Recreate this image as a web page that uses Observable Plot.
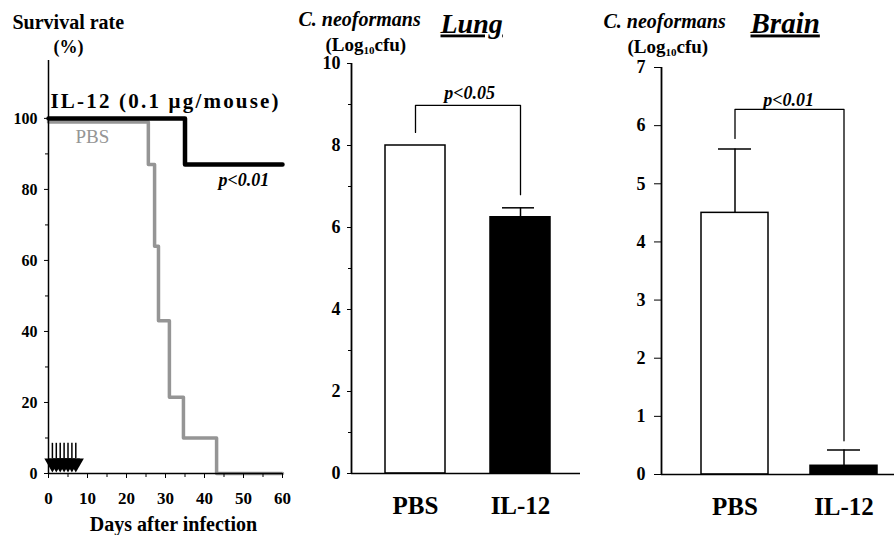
<!DOCTYPE html>
<html><head><meta charset="utf-8">
<script src="https://cdn.jsdelivr.net/npm/d3@7"></script>
<script src="https://cdn.jsdelivr.net/npm/@observablehq/plot@0.6"></script>
<style>
body{margin:0;background:#fff;}
#wrap{position:relative;width:894px;height:535px;overflow:hidden;background:#fff;}
.panel{position:absolute;top:0;}
</style></head><body><div id="wrap"></div>
<script>
// ---- Survival panel data ----
const il12Days = [0, 35, 60];
const il12Surv = [100, 87, 87];
const pbsDays = [0, 25.6, 27.2, 28.2, 31.0, 34.6, 43.1, 60];
const pbsSurv = [99, 87, 64, 43, 21.5, 10, 0, 0];
const injectionDays = [1, 2, 3, 4, 5, 6, 7];
const survTicks = [0, 20, 40, 60, 80, 100];
const dayTicks = [0, 10, 20, 30, 40, 50, 60];
// ---- Organ burden data (Log10 cfu) ----
const groups = ["PBS", "IL-12"];
const lungMean = [8.0, 6.25];
const lungUpper = [8.0, 6.48];
const brainMean = [4.5, 0.15];
const brainUpper = [5.6, 0.42];
const lungTicks = [0, 2, 4, 6, 8, 10];
const brainTicks = [0, 1, 2, 3, 4, 5, 6, 7];

const font = "Liberation Serif, Times New Roman, Times, serif";
const wrap = document.getElementById("wrap");

function lbl(str, x, y, m, opts = {}) {
  return Plot.text([str], {
    frameAnchor: "top-left", text: d => d,
    dx: x - m.left, dy: y - m.top,
    textAnchor: "start", lineAnchor: "bottom",
    fontSize: 16, fontWeight: "bold", fill: "black", fontFamily: font,
    ...opts
  });
}
function place(svg, left) {
  const d = document.createElement("div");
  d.className = "panel";
  d.style.left = left + "px";
  d.appendChild(svg);
  wrap.appendChild(d);
  return svg;
}
const baseStyle = {fontFamily: font, fontSize: "16px", fontWeight: "bold", color: "black", background: "transparent", overflow: "visible"};
const fmt = d => String(d);

// ===== Panel 1: survival =====
const m1 = {left: 48, right: 18, top: 60, bottom: 62};
const il12Line = il12Days.map((d, i) => ({day: d, s: il12Surv[i]}));
const pbsLine = pbsDays.map((d, i) => ({day: d, s: pbsSurv[i]}));
const p1 = Plot.plot({
  width: 300, height: 535,
  marginLeft: m1.left, marginRight: m1.right, marginTop: m1.top, marginBottom: m1.bottom,
  style: baseStyle,
  x: {domain: [0, 60]},
  y: {domain: [0, 116.3]},
  marks: [
    Plot.line(pbsLine, {x: "day", y: "s", curve: "step-after", stroke: "#959595", strokeWidth: 3.5}),
    Plot.line(il12Line, {x: "day", y: "s", curve: "step-after", stroke: "black", strokeWidth: 4.5}),
    Plot.ruleX(injectionDays, {x: d => d, y1: 4.2, y2: 8.5, stroke: "black", strokeWidth: 1.5}),
    Plot.dot(injectionDays, {x: d => d, y: 2.9, symbol: "triangle", rotate: 180, r: 6, fill: "black", stroke: "none"}),
    Plot.ruleX([0], {stroke: "black", strokeWidth: 1.5}),
    Plot.ruleY([0], {stroke: "black", strokeWidth: 1.5}),
    Plot.axisY({ticks: survTicks, tickSize: 4, tickPadding: 7, label: null, fontSize: 16, fontFamily: font, tickFormat: fmt}),
    Plot.axisY({ticks: [10, 30, 50, 70, 90], tickSize: 3, tickFormat: () => "", label: null}),
    Plot.axisX({ticks: dayTicks, tickSize: 5, tickPadding: 13, label: null, fontSize: 17, fontFamily: font, tickFormat: fmt}),
    Plot.axisX({ticks: [5, 15, 25, 35, 45, 55], tickSize: 4, tickFormat: () => "", label: null}),
    lbl("Survival rate", 12, 28, m1, {fontSize: 20}),
    lbl("(%)", 53, 52, m1, {fontSize: 18}),
    lbl("IL-12 (0.1 μg/mouse)", 50, 107, m1, {fontSize: 21}),
    lbl("PBS", 75, 142, m1, {fontSize: 19, fontWeight: "normal", fill: "#959595"}),
    lbl("p<0.01", 218, 185, m1, {fontSize: 18, fontStyle: "italic"}),
    lbl("Days after infection", 173, 530, m1, {fontSize: 20, textAnchor: "middle"})
  ]
});
place(p1, 0);

// ===== Panel 2: lung =====
const m2 = {left: 61, right: 10, top: 63, bottom: 62};
const lung = groups.map((g, i) => ({g, v: lungMean[i], u: lungUpper[i]}));
const lungBracket = [{g: "PBS", y: 8.32}, {g: "PBS", y: 8.98}, {g: "IL-12", y: 8.98}, {g: "IL-12", y: 6.8}];
const p2 = Plot.plot({
  width: 300, height: 535,
  marginLeft: m2.left, marginRight: m2.right, marginTop: m2.top, marginBottom: m2.bottom,
  style: baseStyle,
  x: {domain: groups, paddingInner: 0.43, paddingOuter: 0.305, align: 0.53},
  y: {domain: [0, 10]},
  marks: [
    Plot.ruleX(lung.filter(d => d.u > d.v), {x: "g", y1: "v", y2: "u", stroke: "black", strokeWidth: 1.5}),
    Plot.tickY(lung.filter(d => d.u > d.v), {x: "g", y: "u", stroke: "black", strokeWidth: 1.5, insetLeft: 12, insetRight: 16}),
    Plot.barY(lung, {x: "g", y: "v", fill: (d, i) => i === 0 ? "white" : "black", stroke: "black", strokeWidth: 1.5}),
    Plot.line(lungBracket, {x: "g", y: "y", stroke: "black", strokeWidth: 1.3}),
    Plot.ruleX([0], {x: null, dx: -(300 - m2.left - m2.right) / 2, stroke: "black", strokeWidth: 1.8}),
    Plot.ruleY([0], {stroke: "black", strokeWidth: 1.5}),
    Plot.axisY({ticks: lungTicks, tickSize: 4, tickPadding: 7, label: null, fontSize: 18, fontFamily: font, tickFormat: fmt}),
    Plot.axisY({ticks: [1, 3, 5, 7, 9], tickSize: 3, tickFormat: () => "", label: null}),
    Plot.axisX({tickSize: 0, tickPadding: 23, label: null, fontSize: 25, fontFamily: font}),
    lbl("C. neoformans", 8, 25, m2, {fontSize: 20, fontStyle: "italic"}),
    lbl("Lung", 150, 32, m2, {fontSize: 28, fontStyle: "italic"}),
    lbl("(Log10cfu)", 35, 50, m2, {fontSize: 19}),
    lbl("p<0.05", 179, 98, m2, {fontSize: 18, fontStyle: "italic", textAnchor: "middle"})
  ]
});
place(p2, 290);

// ===== Panel 3: brain =====
const m3 = {left: 71, right: 0, top: 67, bottom: 61};
const brain = groups.map((g, i) => ({g, v: brainMean[i], u: brainUpper[i]}));
const brainBracket = [{g: "PBS", y: 5.78}, {g: "PBS", y: 6.28}, {g: "IL-12", y: 6.28}, {g: "IL-12", y: 0.58}];
const p3 = Plot.plot({
  width: 304, height: 535,
  marginLeft: m3.left, marginRight: m3.right, marginTop: m3.top, marginBottom: m3.bottom,
  style: baseStyle,
  x: {domain: groups, paddingInner: 0.385, paddingOuter: 0.26, align: 0.7},
  y: {domain: [0, 7]},
  marks: [
    Plot.line(brainBracket, {x: "g", y: "y", stroke: "black", strokeWidth: 1.3}),
    Plot.ruleX(brain, {x: "g", y1: "v", y2: "u", stroke: "black", strokeWidth: 1.5}),
    Plot.tickY(brain, {x: "g", y: "u", stroke: "black", strokeWidth: 1.5, insetLeft: 17, insetRight: 17}),
    Plot.barY(brain, {x: "g", y: "v", fill: (d, i) => i === 0 ? "white" : "black", stroke: "black", strokeWidth: 1.5}),
    Plot.ruleX([0], {x: null, dx: -(304 - m3.left - m3.right) / 2, stroke: "black", strokeWidth: 1.8}),
    Plot.ruleY([0], {stroke: "black", strokeWidth: 1.5}),
    Plot.axisY({ticks: brainTicks, tickSize: 7, tickPadding: 9, label: null, fontSize: 18, fontFamily: font, tickFormat: fmt}),
    Plot.axisX({tickSize: 0, tickPadding: 23, label: null, fontSize: 25, fontFamily: font}),
    lbl("C. neoformans", 13, 27, m3, {fontSize: 20, fontStyle: "italic"}),
    lbl("Brain", 160, 32, m3, {fontSize: 29, fontStyle: "italic"}),
    lbl("(Log10cfu)", 37, 52, m3, {fontSize: 19}),
    lbl("p<0.01", 198, 105, m3, {fontSize: 18, fontStyle: "italic", textAnchor: "middle"})
  ]
});
place(p3, 590);

// Subscript 10, underlines, letter spacing
const spacing = {"IL-12 (0.1 μg/mouse)": 2.2, "PBS_gray": 2};
d3.selectAll("#wrap text").each(function() {
  const t = this.textContent;
  const s = d3.select(this);
  if (t === "(Log10cfu)") {
    s.text(null);
    s.append("tspan").text("(Log");
    s.append("tspan").attr("font-size", 11).attr("dy", 3).text("10");
    s.append("tspan").attr("dy", -3).text("cfu)");
  }
  if (t === "Lung" || t === "Brain") {
    s.style("text-decoration", "underline").style("text-decoration-thickness", "3px");
  }
  if (spacing[t] != null) s.attr("letter-spacing", spacing[t]);
  if (t === "PBS" && s.attr("fill") === "#959595") s.attr("letter-spacing", spacing.PBS_gray);
});
</script></body></html>
